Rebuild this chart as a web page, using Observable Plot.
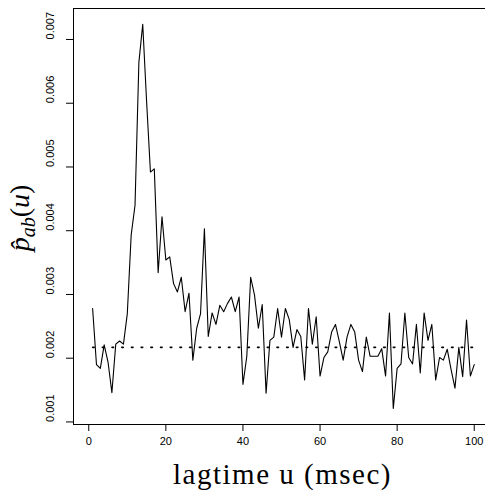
<!DOCTYPE html>
<html>
<head>
<meta charset="utf-8">
<script src="https://cdn.jsdelivr.net/npm/d3@7"></script>
<script src="https://cdn.jsdelivr.net/npm/@observablehq/plot@0.6"></script>
<style>
  html, body { margin: 0; padding: 0; background: #fff; }
  #chart svg { display: block; overflow: hidden; }
</style>
</head>
<body>
<div id="chart"></div>
<script>
const lag = [1,2,3,4,5,6,7,8,9,10,11,12,13,14,15,16,17,18,19,20,
  21,22,23,24,25,26,27,28,29,30,31,32,33,34,35,36,37,38,39,40,
  41,42,43,44,45,46,47,48,49,50,51,52,53,54,55,56,57,58,59,60,
  61,62,63,64,65,66,67,68,69,70,71,72,73,74,75,76,77,78,79,80,
  81,82,83,84,85,86,87,88,89,90,91,92,93,94,95,96,97,98,99,100];
const pab = [
  0.00278,0.00190,0.00184,0.00221,0.00194,0.00146,0.00222,0.00227,0.00222,0.00270,
  0.00393,0.00440,0.00664,0.00724,0.00603,0.00492,0.00497,0.00334,0.00422,0.00354,
  0.00359,0.00317,0.00304,0.00327,0.00273,0.00302,0.00197,0.00247,0.00270,0.00403,
  0.00234,0.00271,0.00253,0.00283,0.00273,0.00286,0.00296,0.00273,0.00296,0.00159,
  0.00203,0.00327,0.00299,0.00247,0.00284,0.00145,0.00228,0.00233,0.00278,0.00233,
  0.00278,0.00261,0.00217,0.00245,0.00234,0.00166,0.00278,0.00222,0.00265,0.00172,
  0.00201,0.00210,0.00241,0.00253,0.00226,0.00197,0.00233,0.00253,0.00241,0.00197,
  0.00179,0.00233,0.00203,0.00203,0.00203,0.00215,0.00172,0.00271,0.00121,0.00184,
  0.00191,0.00271,0.00201,0.00191,0.00253,0.00177,0.00271,0.00228,0.00253,0.00166,
  0.00201,0.00197,0.00214,0.00182,0.00153,0.00217,0.00171,0.00260,0.00172,0.00190];
const baselineLag = [1, 100];
const baselineValue = [0.00217, 0.00217];
const xTicks = [0, 20, 40, 60, 80, 100];
const yTicks = [0.001, 0.002, 0.003, 0.004, 0.005, 0.006, 0.007];
const xTitle = "lagtime u (msec)";

const series = lag.map((u, i) => ({u, p: pab[i]}));
const base = baselineLag.map((u, i) => ({u, p: baselineValue[i]}));

const chart = Plot.plot({
  width: 485,
  height: 491,
  marginLeft: 73,
  marginRight: -4,
  marginTop: 8,
  marginBottom: 67,
  style: {fontFamily: "'Liberation Sans', Arial, sans-serif", fontSize: "11px", color: "black", background: "white"},
  x: {domain: [-3.96, 103.96], range: [73, 489]},
  y: {domain: [0.00096, 0.007486], range: [424, 8]},
  marks: [
    Plot.frame({stroke: "black", strokeWidth: 1}),
    Plot.axisX({ticks: xTicks, tickSize: 7, tickPadding: 6, label: null, fontSize: 11, stroke: "black"}),
    Plot.axisY({ticks: yTicks, tickSize: 7, tickFormat: () => "", label: null, stroke: "black"}),
    Plot.text(yTicks, {y: d => d, text: d => d.toFixed(3), frameAnchor: "left", dx: -23, rotate: -90, fontSize: 11, fill: "black"}),
    Plot.line(base, {x: "u", y: "p", stroke: "black", strokeWidth: 1.6, strokeDasharray: "1.6,8.1", strokeLinecap: "round"}),
    Plot.line(series, {x: "u", y: "p", stroke: "black", strokeWidth: 1.1}),
    Plot.text([xTitle], {text: d => d, frameAnchor: "bottom", dy: 59, fontFamily: "'Liberation Serif', 'DejaVu Serif', serif", fontSize: 29, fill: "black", lineAnchor: "bottom", className: "xtitle"})
  ]
});

const svg = d3.select(chart);
svg.selectAll(".xtitle text").style("letter-spacing", "1.5px").attr("dx", 1);

// y axis title with math-style subscript
const yl = svg.append("text")
  .attr("transform", "translate(29,218) rotate(-90)")
  .attr("text-anchor", "middle")
  .attr("font-family", "'Liberation Serif', 'DejaVu Serif', serif")
  .attr("font-size", 28)
  .attr("fill", "black");
yl.append("tspan").attr("font-style", "italic").text("p\u0302");
yl.append("tspan").attr("font-style", "italic").attr("font-size", 20).attr("dy", 6).text("ab");
yl.append("tspan").attr("dy", -6).text("(");
yl.append("tspan").attr("font-style", "italic").text("u");
yl.append("tspan").text(")");

document.getElementById("chart").appendChild(chart);
</script>
</body>
</html>
